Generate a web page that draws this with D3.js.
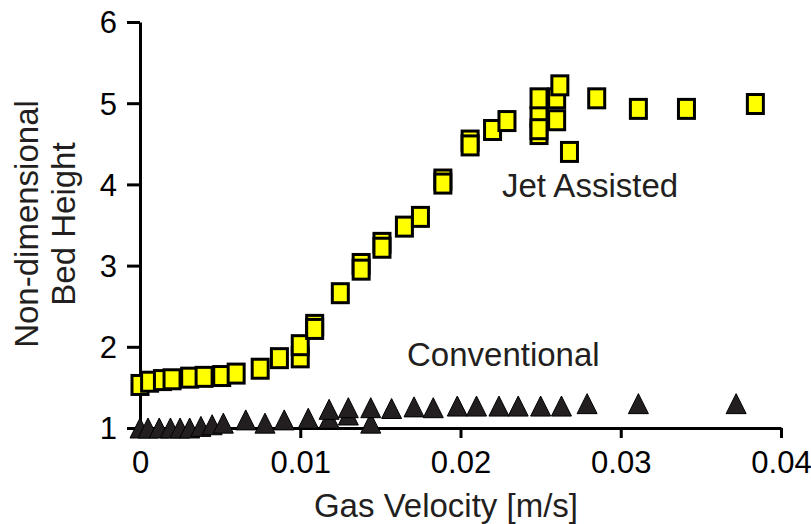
<!DOCTYPE html>
<html>
<head>
<meta charset="utf-8">
<script src="https://cdn.jsdelivr.net/npm/d3@7/dist/d3.min.js"></script>
<style>
    body { margin: 0; background: #fff; }
    svg text { font-family: "Liberation Sans", Arial, sans-serif; }
</style>
</head>
<body>
<div id="chart"></div>
<script>

// Jet assisted bed (squares)
var jetX = [0.0000, 0.0006, 0.0014, 0.0020, 0.0031, 0.0040, 0.0051, 0.0060, 0.0075, 0.0087,
    0.0100, 0.0100, 0.0109, 0.0109, 0.0125, 0.0138, 0.0138, 0.0151, 0.0151, 0.0165,
    0.0175, 0.0189, 0.0189, 0.0206, 0.0206, 0.0220, 0.0229, 0.0249, 0.0249, 0.0249,
    0.0249, 0.0260, 0.0260, 0.0262, 0.0268, 0.0285, 0.0311, 0.0341, 0.0384]
var jetY = [1.53, 1.57, 1.59, 1.60, 1.62, 1.63, 1.64, 1.67, 1.73, 1.86,
    1.87, 2.02, 2.27, 2.22, 2.66, 3.02, 2.95, 3.28, 3.22, 3.48,
    3.60, 4.06, 4.01, 4.54, 4.48, 4.67, 4.78, 4.83, 4.62, 4.68,
    5.06, 4.79, 5.06, 5.22, 4.40, 5.06, 4.93, 4.93, 4.99]

// Conventional bed (triangles)
var convX = [0.0000, 0.0005, 0.0012, 0.0019, 0.0025, 0.0031, 0.0038, 0.0045, 0.0052, 0.0066,
    0.0078, 0.0090, 0.0105, 0.0118, 0.0118, 0.0130, 0.0130, 0.0144, 0.0144, 0.0157,
    0.0171, 0.0183, 0.0198, 0.0210, 0.0224, 0.0236, 0.0250, 0.0263, 0.0279, 0.0311, 0.0372]
var convY = [1.00, 1.00, 1.00, 1.00, 1.00, 1.00, 1.02, 1.04, 1.06, 1.10,
    1.06, 1.10, 1.12, 1.12, 1.23, 1.16, 1.25, 1.06, 1.25, 1.24,
    1.26, 1.25, 1.27, 1.27, 1.27, 1.27, 1.27, 1.27, 1.30, 1.30, 1.30]

var xTicks = [0, 0.01, 0.02, 0.03, 0.04]
var xTickLabels = ["0", "0.01", "0.02", "0.03", "0.04"]
var yTicks = [1, 2, 3, 4, 5, 6]

var WIDTH = 811,
    HEIGHT = 524

var m = [22, 30, 96, 140] //top right bottom left

var TICK_FONT = 31,
    TITLE_FONT = 33,
    TEXT_COLOR = "#231f20"

var svg = d3.select("#chart")
    .append("svg")
    .attr("width", WIDTH)
    .attr("height", HEIGHT)

var x = d3.scaleLinear()
    .domain([0, 0.04])
    .range([m[3], 781])

var y = d3.scaleLinear()
    .domain([1, 6])
    .range([HEIGHT - m[2], m[0]])

// axes
var xAxis = d3.axisBottom(x)
    .tickValues(xTicks)
    .tickFormat(function (d, i) { return xTickLabels[i] })
    .tickSize(10)
    .tickSizeOuter(0)

var yAxis = d3.axisLeft(y)
    .tickValues(yTicks)
    .tickFormat(d3.format("d"))
    .tickSize(13)
    .tickSizeOuter(0)

var gx = svg.append("g")
    .attr("transform", "translate(0," + y(1) + ")")
    .call(xAxis)

var gy = svg.append("g")
    .attr("transform", "translate(" + x(0) + ",0)")
    .call(yAxis)

svg.selectAll(".domain, .tick line")
    .attr("stroke", "#000")
    .attr("stroke-width", 3)

gx.selectAll(".tick text")
    .attr("y", 45)
    .attr("dy", 0)
    .attr("font-size", TICK_FONT)
    .attr("fill", "#000")

gy.selectAll(".tick text")
    .attr("x", -23)
    .attr("dy", "0.35em")
    .attr("font-size", TICK_FONT)
    .attr("fill", "#000")

// axis titles
svg.append("text")
    .attr("x", 446)
    .attr("y", 517)
    .attr("text-anchor", "middle")
    .attr("font-size", TITLE_FONT)
    .attr("fill", TEXT_COLOR)
    .text("Gas Velocity [m/s]")

var yTitle = svg.append("text")
    .attr("transform", "rotate(-90)")
    .attr("text-anchor", "middle")
    .attr("font-size", TITLE_FONT)
    .attr("fill", TEXT_COLOR)

yTitle.append("tspan")
    .attr("x", -224)
    .attr("y", 38)
    .text("Non-dimensional")

yTitle.append("tspan")
    .attr("x", -224)
    .attr("y", 75)
    .text("Bed Height")

// conventional - triangles
var conv = convX.map(function (d, i) { return { x: d, y: convY[i] } })

svg.append("g")
    .selectAll("path")
    .data(conv)
    .enter()
    .append("path")
    .attr("d", "M0,-10L10,10L-10,10Z")
    .attr("transform", function (d) {
        return "translate(" + x(d.x) + "," + y(d.y) + ")"
    })
    .attr("fill", TEXT_COLOR)
    .attr("stroke", "#000")
    .attr("stroke-width", 1)

// jet assisted - squares
var jet = jetX.map(function (d, i) { return { x: d, y: jetY[i] } })

svg.append("g")
    .selectAll("rect")
    .data(jet)
    .enter()
    .append("rect")
    .attr("x", function (d) { return x(d.x) - 8 })
    .attr("y", function (d) { return y(d.y) - 9.5 })
    .attr("width", 16)
    .attr("height", 19)
    .attr("fill", "#ffff00")
    .attr("stroke", "#000")
    .attr("stroke-width", 3)

// series labels
svg.append("text")
    .attr("x", 502)
    .attr("y", 197)
    .attr("font-size", TITLE_FONT)
    .attr("fill", TEXT_COLOR)
    .text("Jet Assisted")

svg.append("text")
    .attr("x", 407)
    .attr("y", 366)
    .attr("font-size", TITLE_FONT)
    .attr("fill", TEXT_COLOR)
    .text("Conventional")

</script>
</body>
</html>
